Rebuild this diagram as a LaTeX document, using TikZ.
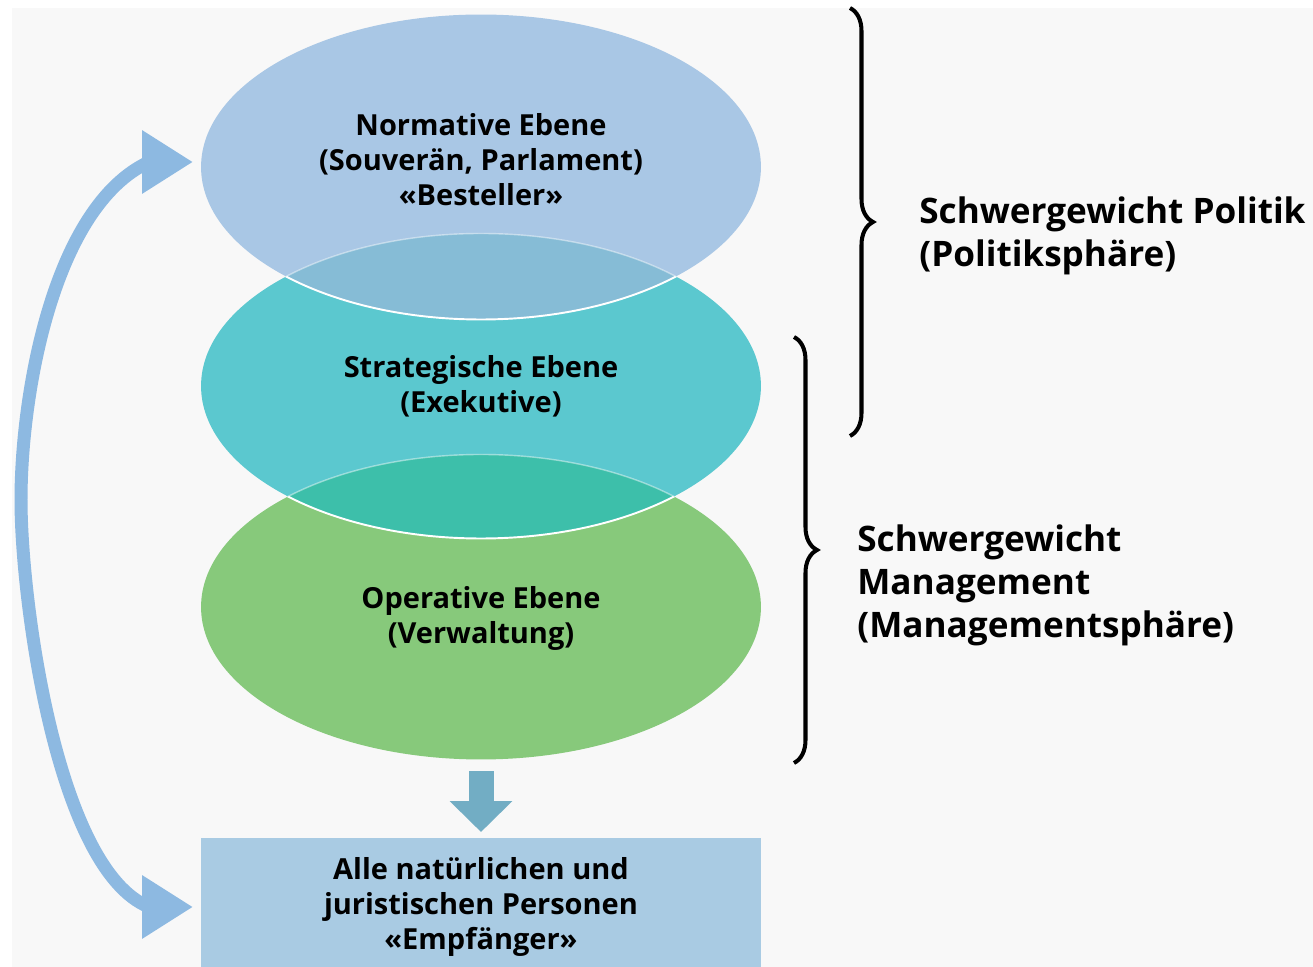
\documentclass[tikz,border=0pt]{standalone}
\usepackage{fontspec}
\setmainfont{Open Sans}
\usetikzlibrary{arrows.meta, shapes.geometric, decorations.pathreplacing}
\definecolor{bgpale}{HTML}{F8F8F8}
\definecolor{normblue}{HTML}{A9C7E5}
\definecolor{stratteal}{HTML}{5BC8CF}
\definecolor{opgreen}{HTML}{87C97B}
\definecolor{lensblue}{HTML}{86BCD6}
\definecolor{lensteal}{HTML}{3DBFAA}
\definecolor{boxblue}{HTML}{A9CBE3}
\definecolor{bowblue}{HTML}{8DB9E1}
\definecolor{dropblue}{HTML}{72ADC4}

\begin{document}
\begin{tikzpicture}[x=0.02cm, y=0.02cm,
    layer/.style={ellipse, inner sep=0pt, outer sep=0pt,
                  minimum width=11.2cm, minimum height=6.1cm},
    tag/.style={align=center, font=\bfseries\fontsize{16.5}{19.9}\selectfont},
    sphere/.style={anchor=west, align=left, inner sep=0pt,
                   font=\bfseries\fontsize{20}{24.5}\selectfont},
    curly/.style={decorate, decoration={brace, amplitude=0.46cm, aspect=0.5},
                  line width=2.3pt},
    rim/.style={white, line width=1.1pt},
    faintrim/.style={white, opacity=0.45, line width=0.8pt}]
  \useasboundingbox (0,0) rectangle (1313,967);
  \fill[bgpale] (12,0) rectangle (1313,959);

  \node[layer, fill=opgreen] (op) at (481,360) {};
  \node[layer, fill=stratteal] (strat) at (481,581) {};
  \node[layer, fill=normblue] (norm) at (481,800) {};

  % overlaps of the layers
  \begin{scope}
    \clip (norm.center) ellipse [x radius=280, y radius=152.5];
    \fill[lensblue] (strat.center) ellipse [x radius=280, y radius=152.5];
    \draw[faintrim] (strat.center) ellipse [x radius=280, y radius=152.5];
  \end{scope}
  \begin{scope}
    \clip (strat.center) ellipse [x radius=280, y radius=152.5];
    \fill[lensteal] (op.center) ellipse [x radius=280, y radius=152.5];
    \draw[faintrim] (op.center) ellipse [x radius=280, y radius=152.5];
    \draw[rim] (norm.center) ellipse [x radius=280, y radius=152.5];
  \end{scope}
  \begin{scope}
    \clip (op.center) ellipse [x radius=280, y radius=152.5];
    \draw[rim] (strat.center) ellipse [x radius=280, y radius=152.5];
  \end{scope}

  \node[tag] (normtext) at ([yshift=0.14cm]norm.center)
    {Normative Ebene\\(Souverän, Parlament)\\«Besteller»};
  \node[tag] (strattext) at (strat.center) {Strategische Ebene\\(Exekutive)};
  \node[tag] (optext) at ([yshift=-0.22cm]op.center) {Operative Ebene\\(Verwaltung)};

  \node[tag, fill=boxblue, minimum width=11.2cm, minimum height=2.76cm, inner sep=0pt,
        outer sep=0pt]
    (box) at (481,60) {Alle natürlichen und\\juristischen Personen\\«Empfänger»};

  \draw[-{Triangle[length=0.62cm, width=1.22cm]}, dropblue, line width=0.5cm,
        shorten <=0.24cm, shorten >=0.12cm] (op.south) -- (box.north);

  \coordinate (bow) at (21,467);
  \draw[{Triangle[length=1.02cm, width=1.2cm]}-{Triangle[length=1.02cm, width=1.2cm]},
        bowblue, line width=0.26cm, shorten <=0.16cm, shorten >=0.16cm]
    ([yshift=0.1cm]norm.west) -- ++(-52,0) to[out=205, in=90, looseness=0.75] (bow)
    to[out=-90, in=158, looseness=0.6] ([xshift=-1.04cm]box.west) -- (box.west);

  \draw[curly] (850,959) -- (850,531);
  \draw[curly] (794,630) -- (794,204);
  \node[sphere] (politik) at (919,731) {Schwergewicht Politik\\(Politiksphäre)};
  \node[sphere] (mgmt) at (857,382)
    {Schwergewicht\\Management\\(Managementsphäre)};
\end{tikzpicture}
\end{document}
